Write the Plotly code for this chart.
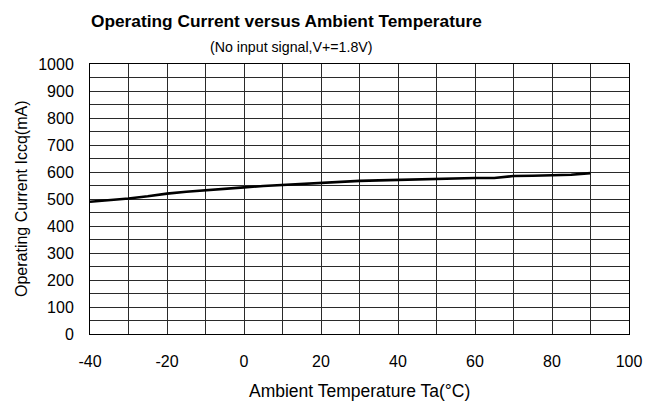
import plotly.graph_objects as go

temperature_c = [-40, -35, -30, -25, -20, -15, -10, -5, 0, 5, 10, 15, 20, 25, 30,
                 35, 40, 45, 50, 55, 60, 65, 70, 75, 80, 85, 90]
current_ma = [490, 495, 502, 510, 520, 527, 533, 538, 543, 548, 552, 556, 560, 564, 567,
              569, 571, 573, 575, 577, 578, 578, 585, 586, 587, 590, 596]

x_ticks = [-40, -20, 0, 20, 40, 60, 80, 100]
x_tick_labels = ["-40", "-20", "0", "20", "40", "60", "80", "100"]
y_ticks = [0, 100, 200, 300, 400, 500, 600, 700, 800, 900, 1000]

title_text = "Operating Current versus Ambient Temperature"
subtitle_text = "(No input signal,V+=1.8V)"
x_title = "Ambient Temperature Ta(°C)"
y_title = "Operating Current Iccq(mA)"

FONT = "Liberation Sans, Arial, sans-serif"
GRID = "#2a2a2a"

fig = go.Figure()
fig.add_trace(go.Scatter(x=temperature_c, y=current_ma, mode="lines",
                         line=dict(color="black", width=2.6), showlegend=False,
                         hoverinfo="skip"))

fig.update_layout(
    width=645, height=404,
    margin=dict(l=90, r=16, t=64, b=70, autoexpand=False),
    paper_bgcolor="white", plot_bgcolor="white",
    font=dict(family=FONT, color="black", size=16),
    xaxis=dict(range=[-40, 100], tickvals=x_ticks, ticktext=x_tick_labels, ticks="",
               showgrid=True, gridcolor=GRID, gridwidth=1, automargin=False,
               minor=dict(dtick=10, tick0=0, showgrid=True, gridcolor=GRID, gridwidth=1),
               showline=True, linecolor="black", linewidth=1, mirror=True,
               zeroline=False, tickfont=dict(size=16), ticklabelstandoff=13),
    yaxis=dict(range=[0, 1000], tickvals=y_ticks, ticks="", showgrid=True,
               gridcolor=GRID, gridwidth=1, automargin=False,
               minor=dict(dtick=50, tick0=0, showgrid=True, gridcolor=GRID, gridwidth=1),
               showline=True, linecolor="black", linewidth=1, mirror=True,
               zeroline=False, tickfont=dict(size=16), ticklabelstandoff=12),
    annotations=[
        dict(text="<b>" + title_text + "</b>", xref="paper", yref="paper",
             x=(286 - 90) / 539, y=1 + (64 - 21) / 270, xanchor="center", yanchor="middle",
             showarrow=False, font=dict(size=17.3, family=FONT)),
        dict(text=subtitle_text, xref="paper", yref="paper",
             x=(291 - 90) / 539, y=1 + (64 - 47) / 270, xanchor="center", yanchor="middle",
             showarrow=False, font=dict(size=14.2, family=FONT)),
        dict(text=x_title, xref="paper", yref="paper",
             x=0.5, y=-(391 - 334) / 270, xanchor="center", yanchor="middle",
             showarrow=False, font=dict(size=17.5, family=FONT)),
        dict(text=y_title, xref="paper", yref="paper", textangle=-90,
             x=-(90 - 21) / 539, y=0.5, xanchor="center", yanchor="middle",
             showarrow=False, font=dict(size=16, family=FONT)),
    ],
)

fig.write_html(
    "out.html",
    config={"displayModeBar": False},
    post_script="document.body.style.margin='0';document.body.style.overflow='hidden';",
)
